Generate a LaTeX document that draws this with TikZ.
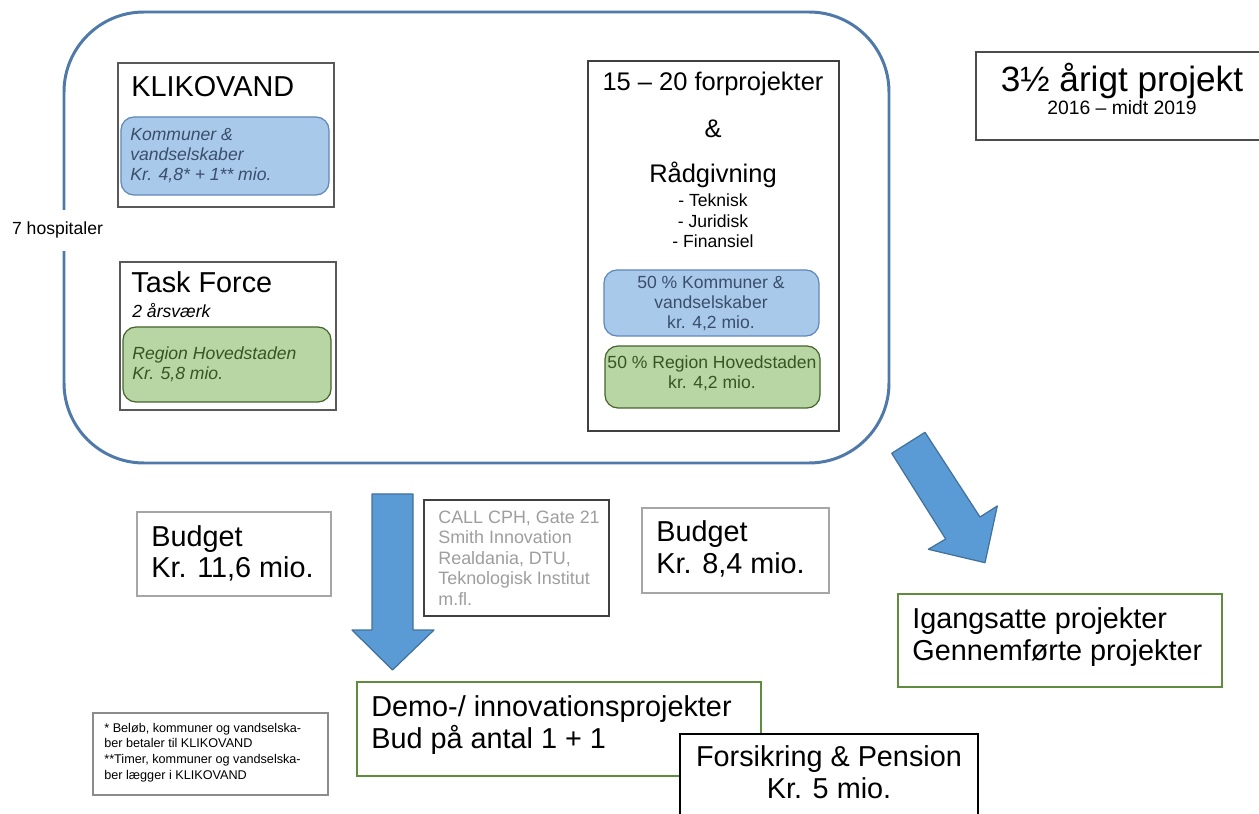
\documentclass[tikz,border=0pt]{standalone}
\usepackage{fontspec}
\setmainfont{Liberation Sans}
\usetikzlibrary{fit}

\definecolor{frameblue}{RGB}{79,121,168}
\definecolor{lightblue}{RGB}{169,201,234}
\definecolor{midblue}{RGB}{96,135,185}
\definecolor{textblue}{RGB}{58,78,108}
\definecolor{lightgreen}{RGB}{183,214,163}
\definecolor{darkgreen}{RGB}{70,100,45}
\definecolor{textgreen}{RGB}{55,85,35}
\definecolor{boxgreen}{RGB}{96,140,62}
\definecolor{arrowfill}{RGB}{91,155,213}
\definecolor{arrowline}{RGB}{65,113,156}

\newcommand{\bigtxt}{\fontsize{16.4}{18.2}\selectfont}
\newcommand{\headtxt}{\fontsize{14.5}{16}\selectfont}
\newcommand{\hugetxt}{\fontsize{20}{22}\selectfont}
\newcommand{\smalltxt}{\fontsize{10}{11.5}\selectfont}
\newcommand{\subtxt}{\fontsize{10}{11.7}\selectfont}
\newcommand{\datetxt}{\fontsize{11}{13}\selectfont}
\newcommand{\graytxt}{\fontsize{10.2}{11.6}\selectfont}
\newcommand{\tinytxt}{\fontsize{7.2}{8.9}\selectfont}

\begin{document}
\begin{tikzpicture}[x=0.02cm, y=-0.02cm,
	box/.style={draw=black!65, line width=0.6pt, fill=white, inner sep=0pt},
	budgetbox/.style={draw=black!35, line width=1.2pt, inner sep=0pt},
	greenframe/.style={draw=boxgreen, line width=1.6pt, fill=white, inner sep=0pt},
	bluepill/.style={draw=midblue, line width=0.7pt, fill=lightblue, rounded corners=0.26cm, inner sep=0pt},
	greenpill/.style={draw=darkgreen, line width=0.7pt, fill=lightgreen, rounded corners=0.26cm, inner sep=0pt},
	txt/.style={inner sep=0pt, anchor=base west, align=left},
	ctxt/.style={inner sep=0pt, anchor=base, align=center},
	blockarrow/.style={draw=arrowline, line width=0.7pt, fill=arrowfill, line join=round}]
		%%%%% START %%%%%
		\useasboundingbox (0,0) rectangle (1259,814);
		% (text anchors below sit on the last line's baseline)
		
		% big frame
		\node[draw=frameblue, line width=1.7pt, rounded corners=1.6cm, inner sep=0pt, fit={(64,12) (889,463)}] (frame) {};
		\node[fill=white, inner xsep=1pt, inner ysep=7pt, anchor=base west, font=\smalltxt] (hosp) at (10,235) {7 hospitaler};
		
		% KLIKOVAND
		\node[box, fit={(118,63) (334,207)}] (klik) {};
		\node[txt, font=\bigtxt] (kliktitle) at (131,97) {KLIKOVAND};
		\node[bluepill, fit={(121,117) (329,195)}] (klikfund) {};
		\node[txt, font=\smalltxt\itshape, text=textblue] (klikfundtxt) at (130,181) {Kommuner \&\\vandselskaber\\Kr. 4,8* + 1** mio.};
		
		% Task Force
		\node[box, fit={(120,262) (336,410)}] (task) {};
		\node[txt, font=\bigtxt] (tasktitle) at (131,293) {Task Force};
		\node[txt, font=\smalltxt\itshape] (taskyears) at (132,318) {2 årsværk};
		\node[greenpill, fit={(123,327) (331,402)}] (taskfund) {};
		\node[txt, font=\smalltxt\itshape, text=textgreen] (taskfundtxt) at (132,380) {Region Hovedstaden\\Kr. 5,8 mio.};
		
		% forprojekter
		\node[box, draw=black!75, fit={(588,61) (839,431)}] (pre) {};
		\node[ctxt, font=\headtxt] (pretitle) at (713,91) {15 – 20 forprojekter};
		\node[ctxt, font=\headtxt] (preamp) at (713,138) {\&};
		\node[ctxt, font=\headtxt] (advice) at (713,183) {Rådgivning};
		\node[ctxt, font=\subtxt] (advicelist) at (713,248) {- Teknisk\\- Juridisk\\- Finansiel};
		\node[bluepill, fit={(604,270) (819,336)}] (prefund) {};
		\node[ctxt, font=\smalltxt, text=textblue] (prefundtxt) at (711,329) {50 \% Kommuner \&\\vandselskaber\\kr. 4,2 mio.};
		\node[greenpill, fit={(605,346) (820,408)}] (regfund) {};
		\node[ctxt, font=\smalltxt, text=textgreen] (regfundtxt) at (712,389) {50 \% Region Hovedstaden\\kr. 4,2 mio.};
		
		% period
		\node[box, draw=black!70, line width=0.9pt, fit={(976,52) (1265,140)}] (span) {};
		\node[ctxt, font=\hugetxt] (spantitle) at (1122,92) {3½ årigt projekt};
		\node[ctxt, font=\datetxt] (spandates) at (1122,115) {2016 – midt 2019};
		
		% budgets
		\node[budgetbox, fit={(137,512) (331,596)}] (budgeta) {};
		\node[txt, font=\bigtxt] (budgetatxt) at (151,578) {Budget\\Kr. 11,6 mio.};
		\node[budgetbox, fit={(642,508) (829,593)}] (budgetb) {};
		\node[txt, font=\bigtxt] (budgetbtxt) at (656,573) {Budget\\Kr. 8,4 mio.};
		
		% partners
		\node[box, draw=black!75, fit={(424,500) (609,616)}] (partners) {};
		\node[txt, font=\graytxt, text=black!38] (partnerstxt) at (438,605) {CALL CPH, Gate 21\\Smith Innovation\\Realdania, DTU,\\Teknologisk Institut\\m.fl.};
		
		% block arrows
		\draw[blockarrow] (372,494) -- (413,494) -- (413,630) -- (434,630) -- (392.5,670) -- (352,630) -- (372,630) -- cycle;
		\draw[blockarrow] (891.7,453.3) -- (925,432.3) -- (980,517) -- (997.3,506) -- (985,562.7) -- (928.3,549.3) -- (945.7,539) -- cycle;
		
		% results
		\node[greenframe, fit={(898,594) (1222,687)}] (started) {};
		\node[txt, font=\bigtxt] (startedtxt) at (912,660) {Igangsatte projekter\\Gennemførte projekter};
		\node[greenframe, fit={(357,682) (761,776)}] (demo) {};
		\node[txt, font=\bigtxt] (demotxt) at (371,748) {Demo-/ innovationsprojekter\\Bud på antal 1 + 1};
		\node[box, draw=black, line width=1.2pt, fit={(680,734) (978,830)}] (insure) {};
		\node[ctxt, font=\bigtxt] (insuretxt) at (829,798) {Forsikring \& Pension\\Kr. 5 mio.};
		
		% footnote
		\node[box, draw=black!45, fit={(93,713) (328,795)}] (note) {};
		\node[txt, font=\tinytxt] (notetxt) at (104,779) {* Beløb, kommuner og vandselska-\\ber betaler til KLIKOVAND\\**Timer, kommuner og vandselska-\\ber lægger i KLIKOVAND};
		%%%%% END %%%%%
\end{tikzpicture}
\end{document}
